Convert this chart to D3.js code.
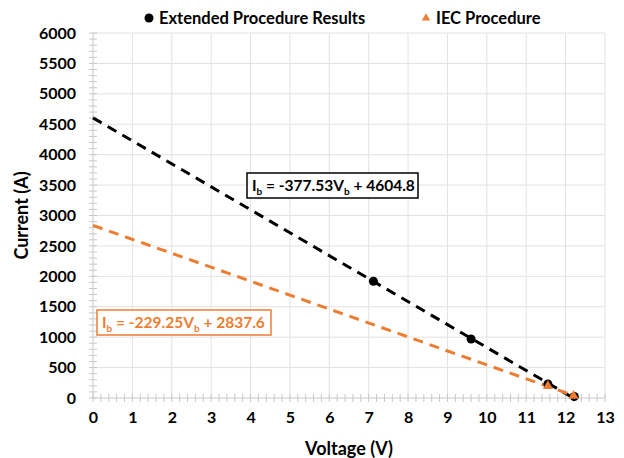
<!DOCTYPE html>
<html>
<head>
<meta charset="utf-8">
<script src="https://cdn.jsdelivr.net/npm/d3@7"></script>
<style>
  body { margin: 0; background: #fff; }
  text { font-family: Lato, "Open Sans", sans-serif; font-weight: bold; }
</style>
</head>
<body>
<svg id="chart"></svg>
<script>
// data
var extV = [7.12, 9.6, 11.55, 12.22];
var extI = [1920, 970, 230, 25];
var iecV = [11.55, 12.2];
var iecI = [195, 35];
// trend lines (slope, intercept)
var extFit = [-377.53, 4604.8];
var iecFit = [-229.25, 2837.6];
var xTicks = d3.range(0, 14, 1);
var yTicks = d3.range(0, 6500, 500);

var width = 624, height = 458;
var margin = { left: 93, right: 19, top: 33, bottom: 60 };
var orange = '#ED7D31';

var svg = d3.select('#chart')
    .attr('width', width)
    .attr('height', height);

var xScale = d3.scaleLinear().domain([0, 13]).range([margin.left, width - margin.right]);
var yScale = d3.scaleLinear().domain([0, 6000]).range([height - margin.bottom, margin.top]);

// gridlines
svg.append('g').selectAll('line')
    .data(xTicks.slice(1))
    .enter().append('line')
    .attr('x1', function (d) { return xScale(d); })
    .attr('x2', function (d) { return xScale(d); })
    .attr('y1', yScale(0))
    .attr('y2', yScale(6000))
    .attr('stroke', '#e2e2e2');

svg.append('g').selectAll('line')
    .data(yTicks.slice(1))
    .enter().append('line')
    .attr('x1', xScale(0))
    .attr('x2', xScale(13))
    .attr('y1', function (d) { return yScale(d); })
    .attr('y2', function (d) { return yScale(d); })
    .attr('stroke', '#e2e2e2');

// minor ticks crossing the axes
svg.append('g').selectAll('line')
    .data(d3.range(0, 13.01, 0.2))
    .enter().append('line')
    .attr('x1', function (d) { return xScale(d); })
    .attr('x2', function (d) { return xScale(d); })
    .attr('y1', yScale(0) - 4)
    .attr('y2', yScale(0) + 4)
    .attr('stroke', '#c8c8c8');

svg.append('g').selectAll('line')
    .data(d3.range(0, 6001, 100))
    .enter().append('line')
    .attr('x1', xScale(0) - 4)
    .attr('x2', xScale(0) + 4)
    .attr('y1', function (d) { return yScale(d); })
    .attr('y2', function (d) { return yScale(d); })
    .attr('stroke', '#c8c8c8');

// axes lines
svg.append('line')
    .attr('x1', xScale(0)).attr('x2', xScale(13))
    .attr('y1', yScale(0)).attr('y2', yScale(0))
    .attr('stroke', '#c8c8c8');
svg.append('line')
    .attr('x1', xScale(0)).attr('x2', xScale(0))
    .attr('y1', yScale(0)).attr('y2', yScale(6000))
    .attr('stroke', '#c8c8c8');

// tick labels
var xAxis = d3.axisBottom(xScale).tickValues(xTicks).tickSize(0).tickPadding(14);
svg.append('g')
    .attr('transform', 'translate(0,' + yScale(0) + ')')
    .call(xAxis)
    .call(function (g) { g.select('.domain').remove(); })
    .selectAll('text')
    .style('font-size', '16px')
    .attr('fill', '#000');

var yAxis = d3.axisLeft(yScale).tickValues(yTicks).tickFormat(d3.format('d')).tickSize(0).tickPadding(17);
svg.append('g')
    .attr('transform', 'translate(' + xScale(0) + ',0)')
    .call(yAxis)
    .call(function (g) { g.select('.domain').remove(); })
    .selectAll('text')
    .style('font-size', '16px')
    .attr('fill', '#000');

// axis titles
svg.append('text')
    .attr('x', (xScale(0) + xScale(13)) / 2)
    .attr('y', 455)
    .attr('text-anchor', 'middle')
    .style('font-size', '18px')
    .text('Voltage (V)');

svg.append('text')
    .attr('transform', 'translate(28,' + yScale(3000) + ') rotate(-90)')
    .attr('text-anchor', 'middle')
    .style('font-size', '18px')
    .text('Current (A)');

// trend lines
function fitLine(fit, x0, x1, color) {
    svg.append('line')
        .attr('x1', xScale(x0)).attr('y1', yScale(fit[0] * x0 + fit[1]))
        .attr('x2', xScale(x1)).attr('y2', yScale(fit[0] * x1 + fit[1]))
        .attr('stroke', color)
        .attr('stroke-width', 3)
        .attr('stroke-dasharray', '10,7');
}
fitLine(extFit, 0, 12.2, '#000');
fitLine(iecFit, 0, 12.2, orange);

// points
svg.append('g').selectAll('circle')
    .data(extV)
    .enter().append('circle')
    .attr('cx', function (d) { return xScale(d); })
    .attr('cy', function (d, i) { return yScale(extI[i]); })
    .attr('r', 4.5)
    .attr('fill', '#000');

var tri = d3.symbol().type(d3.symbolTriangle).size(45);
svg.append('g').selectAll('path')
    .data(iecV)
    .enter().append('path')
    .attr('d', tri)
    .attr('transform', function (d, i) { return 'translate(' + xScale(d) + ',' + yScale(iecI[i]) + ')'; })
    .attr('fill', orange);

// equation boxes
function eqBox(x, y, w, color, slope, inter) {
    var g = svg.append('g').attr('transform', 'translate(' + x + ',' + y + ')');
    g.append('rect')
        .attr('width', w).attr('height', 25)
        .attr('fill', '#fff')
        .attr('stroke', color)
        .attr('stroke-width', 1.5);
    var t = g.append('text')
        .attr('x', 5).attr('y', 18)
        .attr('fill', color)
        .style('font-size', '15.5px');
    t.append('tspan').text('I');
    t.append('tspan').attr('dy', 4).style('font-size', '10px').text('b');
    t.append('tspan').attr('dy', -4).text(' = ' + slope + 'V');
    t.append('tspan').attr('dy', 4).style('font-size', '10px').text('b');
    t.append('tspan').attr('dy', -4).text(' + ' + inter);
}
eqBox(247, 173, 171, '#000', '-377.53', '4604.8');
eqBox(97, 310, 174, orange, '-229.25', '2837.6');

// legend
var legend = svg.append('g');
legend.append('circle').attr('cx', 149).attr('cy', 18).attr('r', 4.5).attr('fill', '#000');
legend.append('text').attr('x', 159).attr('y', 24).style('font-size', '16.5px').text('Extended Procedure Results');
legend.append('path')
    .attr('d', d3.symbol().type(d3.symbolTriangle).size(30))
    .attr('transform', 'translate(426,18)')
    .attr('fill', orange);
legend.append('text').attr('x', 436).attr('y', 24).style('font-size', '16.5px').text('IEC Procedure');
</script>
</body>
</html>
